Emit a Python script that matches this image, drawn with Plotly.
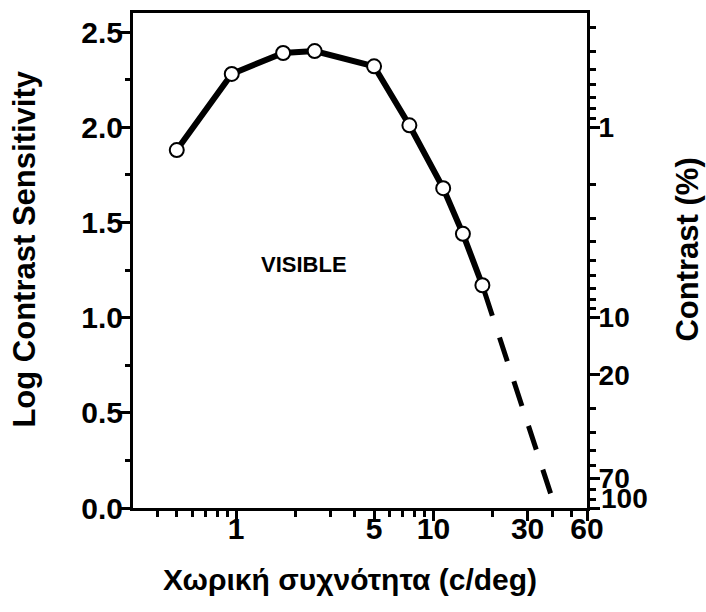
import numpy as np
import plotly.graph_objects as go

# Contrast sensitivity function: spatial frequency (c/deg) vs log contrast sensitivity
freq = [0.5, 0.95, 1.73, 2.5, 5.0, 7.55, 11.2, 14.1, 17.7]
log_cs = [1.88, 2.28, 2.39, 2.40, 2.32, 2.01, 1.68, 1.44, 1.17]

# Extrapolated cut-off toward the resolution limit
extrap_freq = [17.7, 40.0]
extrap_log_cs = [1.17, 0.05]

# Axis ticks
x_major = [1, 5, 10, 30, 60]
x_minor = [0.4, 0.5, 0.6, 0.7, 0.8, 0.9, 2, 3, 4, 6, 7, 8, 9, 20, 40, 50]
y_major = [0.0, 0.5, 1.0, 1.5, 2.0, 2.5]
y_minor = [0.25, 0.75, 1.25, 1.75, 2.25]

# Right axis: contrast (%) = 100 / sensitivity
contrast_major = [1, 10, 20, 70, 100]
contrast_minor = [0.3, 0.4, 0.5, 0.6, 0.7, 0.8, 0.9,
                  2, 3, 4, 5, 6, 7, 8, 9,
                  30, 40, 50, 60, 80, 90]

FONT = "Liberation Sans, Arial, sans-serif"
tick_font = dict(family=FONT, size=30, color="black", weight="bold")
right_font = dict(family=FONT, size=28, color="black", weight="bold")
title_font = dict(family=FONT, size=31, color="black", weight="bold")
xtitle_font = dict(family=FONT, size=30, color="black", weight="bold")

fig = go.Figure()

fig.add_trace(go.Scatter(
    x=extrap_freq, y=extrap_log_cs, mode="lines",
    line=dict(color="black", width=5,
              dash="32px,23px,25px,21px,26px,21px,25px,21px,25px,60px"),
    hoverinfo="skip", showlegend=False,
))

fig.add_trace(go.Scatter(
    x=freq, y=log_cs, mode="lines+markers",
    line=dict(color="black", width=6),
    marker=dict(size=14, color="white", line=dict(color="black", width=2)),
    showlegend=False,
))

# invisible trace to activate the right-hand axis
fig.add_trace(go.Scatter(
    x=[freq[0]], y=[log_cs[0]], yaxis="y2", mode="markers",
    marker=dict(opacity=0), hoverinfo="skip", showlegend=False,
))

axis_common = dict(
    showgrid=False, zeroline=False, showline=True,
    linecolor="black", linewidth=3,
    ticks="outside", ticklen=10, tickwidth=3, tickcolor="black",
    tickfont=tick_font,
)

# the bottom contrast label sits a little above its tick
right_text = [str(c) if c != 100 else "" for c in contrast_major]

fig.update_layout(
    width=706, height=612, autosize=False,
    margin=dict(l=133, r=119, t=10, b=104),
    paper_bgcolor="white", plot_bgcolor="white",
    xaxis=dict(
        type="log", range=[np.log10(0.3), np.log10(60)],
        tickmode="array", tickvals=x_major,
        ticktext=[str(v) for v in x_major],
        mirror=True, ticklabelstandoff=-18,
        minor=dict(tickmode="array", tickvals=x_minor, ticks="outside",
                   ticklen=6, tickwidth=3, tickcolor="black"),
        **axis_common,
    ),
    yaxis=dict(
        range=[0, 2.6], tickmode="array", tickvals=y_major,
        ticktext=[f"{v:.1f}" for v in y_major],
        ticklabelstandoff=-9,
        minor=dict(tickmode="array", tickvals=y_minor, ticks="outside",
                   ticklen=5, tickwidth=3, tickcolor="black"),
        **axis_common,
    ),
    yaxis2=dict(
        overlaying="y", side="right", range=[0, 2.6],
        tickmode="array",
        tickvals=[np.log10(100 / c) for c in contrast_major],
        ticktext=right_text,
        ticklabelstandoff=-7,
        minor=dict(tickmode="array",
                   tickvals=[np.log10(100 / c) for c in contrast_minor],
                   ticks="outside", ticklen=6, tickwidth=3, tickcolor="black"),
        **{**axis_common, "tickfont": right_font},
    ),
    annotations=[
        dict(text="100", xref="paper", yref="y2", x=1, y=np.log10(100 / 100),
             xanchor="left", yanchor="middle", xshift=12, yshift=10,
             showarrow=False, font=right_font),
        dict(text="Log Contrast Sensitivity", textangle=-90,
             xref="paper", yref="paper", x=(25 - 133) / 454, y=(508 - 248) / 498,
             xanchor="center", yanchor="middle", showarrow=False, font=title_font),
        dict(text="Contrast (%)", textangle=-90,
             xref="paper", yref="paper", x=(688 - 133) / 454, y=(508 - 248) / 498,
             xanchor="center", yanchor="middle", showarrow=False, font=title_font),
        dict(text="Χωρική συχνότητα (c/deg)",
             xref="paper", yref="paper", x=(350 - 133) / 454, y=(508 - 580) / 498,
             xanchor="center", yanchor="middle", showarrow=False, font=xtitle_font),
        dict(text="VISIBLE", xref="x", yref="y", x=np.log10(2.21), y=1.28,
             xanchor="center", yanchor="middle", showarrow=False,
             font=dict(family=FONT, size=22, color="black", weight="bold")),
    ],
)

fig.write_html("out.html")
